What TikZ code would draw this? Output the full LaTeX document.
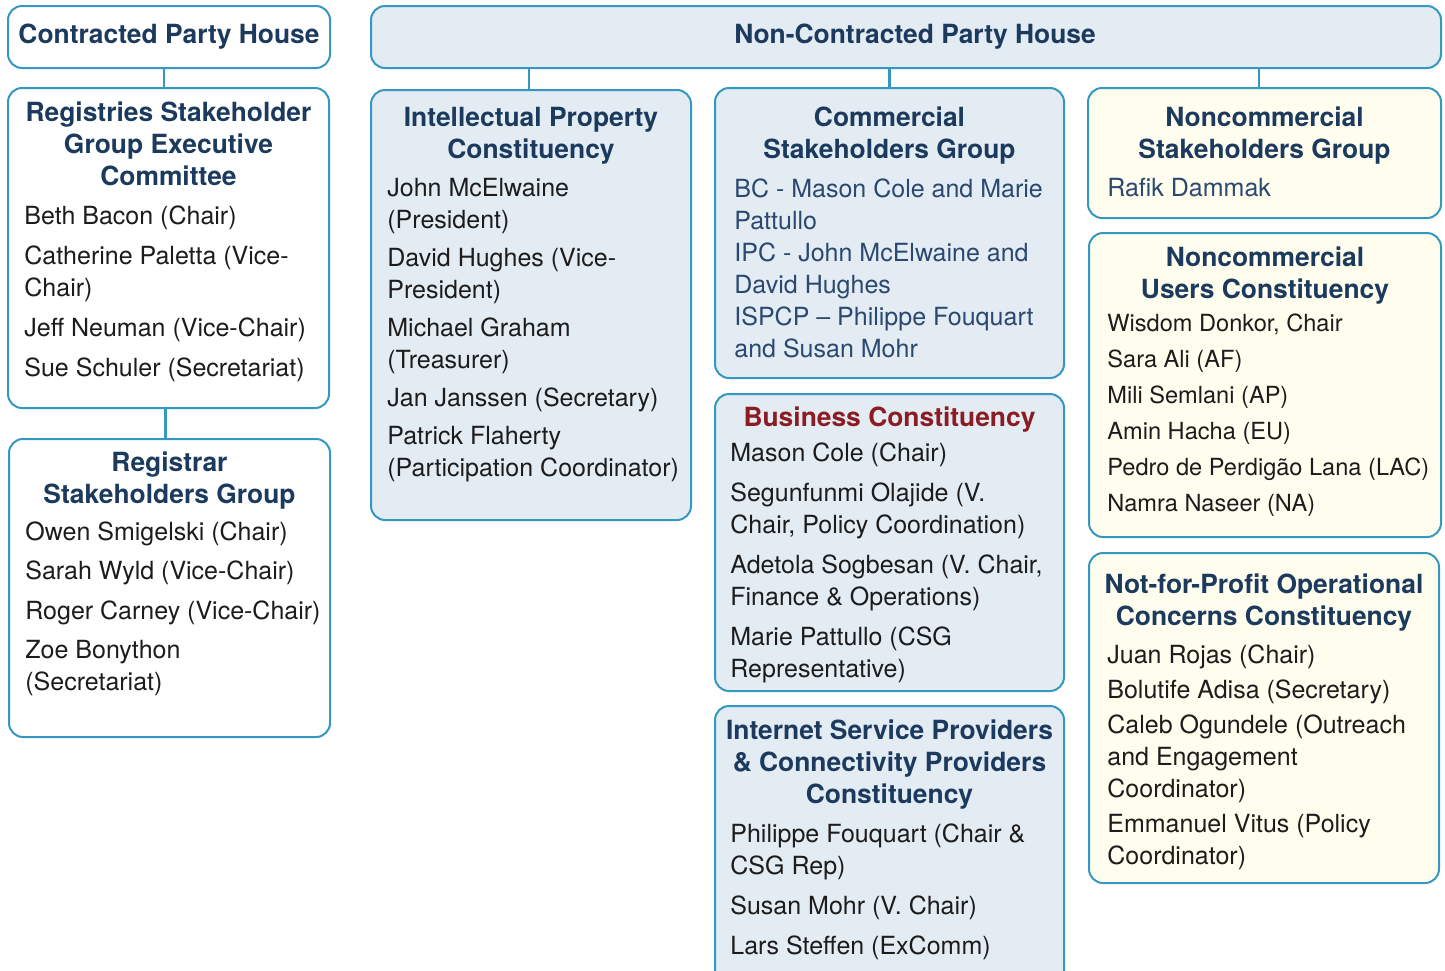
\documentclass[tikz,border=0pt]{standalone}
\usepackage{fontspec}
\setmainfont{TeX Gyre Heros}
\usetikzlibrary{fit}

\definecolor{edgeblue}{RGB}{52,152,192}
\definecolor{ncfill}{RGB}{227,235,243}
\definecolor{creamfill}{RGB}{254,253,238}
\definecolor{headnavy}{RGB}{27,58,94}
\definecolor{headred}{RGB}{140,28,36}
\definecolor{nametext}{RGB}{28,28,28}
\definecolor{listblue}{RGB}{42,72,112}

\tikzset{
  grpbox/.style={draw=edgeblue, line width=1pt, rounded corners=7pt, inner sep=0pt},
  cpbox/.style={grpbox, fill=white},
  ncbox/.style={grpbox, fill=ncfill},
  nccbox/.style={grpbox, fill=creamfill},
  grphead/.style={font=\fontsize{13.2pt}{16pt}\selectfont\bfseries, text=headnavy,
    align=center, inner sep=0pt, anchor=north},
  grplist/.style={font=\fontsize{12.5pt}{16pt}\selectfont, text=nametext,
    align=left, inner sep=0pt, anchor=north west},
  link/.style={draw=edgeblue, line width=1.4pt},
}

\begin{document}
\begin{tikzpicture}[x=0.5pt,y=-0.5pt]
  \clip (0,0) rectangle (1445,970);

  % Contracted Party House
  \node[cpbox, fit={(8,6) (330,68)}] (cph) {};
  \node[grphead, anchor=center] (cphh) at (cph.center) {Contracted Party House};

  \node[cpbox, fit={(8,88) (329,408)}] (rysg) {};
  \node[grphead] (rysgh) at ([shift={(0,14)}]rysg.north)
    {Registries Stakeholder\\Group Executive\\Committee};
  \node[grplist] (rysgl) at ([shift={(17,118)}]rysg.north west)
    {Beth Bacon (Chair)\\[4pt]
     Catherine Paletta (Vice-\\Chair)\\[4pt]
     Jeff Neuman (Vice-Chair)\\[4pt]
     Sue Schuler (Secretariat)};

  \node[cpbox, fit={(9,439) (330,737)}] (rrsg) {};
  \node[grphead] (rrsgh) at ([shift={(0,13)}]rrsg.north)
    {Registrar\\Stakeholders Group};
  \node[grplist] (rrsgl) at ([shift={(17,83)}]rrsg.north west)
    {Owen Smigelski (Chair)\\[3.8pt]
     Sarah Wyld (Vice-Chair)\\[3.8pt]
     Roger Carney (Vice-Chair)\\[3.8pt]
     Zoe Bonython\\(Secretariat)};

  % Non-Contracted Party House
  \node[ncbox, fit={(371,6) (1441,68)}] (ncph) {};
  \node[grphead, anchor=center] (ncphh) at ([xshift=4.5pt]ncph.center) {Non-Contracted Party House};

  \node[ncbox, fit={(371,90) (691,520)}] (ipc) {};
  \node[grphead] (ipch) at ([shift={(0,18)}]ipc.north)
    {Intellectual Property\\Constituency};
  \node[grplist] (ipcl) at ([shift={(17,89)}]ipc.north west)
    {John McElwaine\\(President)\\[3pt]
     David Hughes (Vice-\\President)\\[3pt]
     Michael Graham\\(Treasurer)\\[3pt]
     Jan Janssen (Secretary)\\[3pt]
     Patrick Flaherty\\(Participation Coordinator)};

  \node[ncbox, fit={(715,88) (1064,378)}] (csg) {};
  \node[grphead] (csgh) at ([shift={(0,19)}]csg.north)
    {Commercial\\Stakeholders Group};
  \node[grplist, text=listblue] (csgl) at ([shift={(20,91)}]csg.north west)
    {BC - Mason Cole and Marie\\Pattullo\\
     IPC - John McElwaine and\\David Hughes\\
     ISPCP -- Philippe Fouquart\\and Susan Mohr};

  \node[ncbox, fit={(715,394) (1064,691)}] (bc) {};
  \node[grphead, text=headred] (bch) at ([shift={(0,13)}]bc.north)
    {Business Constituency};
  \node[grplist] (bcl) at ([shift={(16,49)}]bc.north west)
    {Mason Cole (Chair)\\[4pt]
     Segunfunmi Olajide (V.\\Chair, Policy Coordination)\\[4pt]
     Adetola Sogbesan (V. Chair,\\Finance \& Operations)\\[4pt]
     Marie Pattullo (CSG\\Representative)};

  \node[ncbox, fit={(715,706) (1064,1010)}] (ispcp) {};
  \node[grphead] (ispcph) at ([shift={(0,14)}]ispcp.north)
    {Internet Service Providers\\\& Connectivity Providers\\Constituency};
  \node[grplist] (ispcpl) at ([shift={(16,118)}]ispcp.north west)
    {Philippe Fouquart (Chair \&\\CSG Rep)\\[4pt]
     Susan Mohr (V. Chair)\\[4pt]
     Lars Steffen (ExComm)};

  \node[nccbox, fit={(1088,88) (1441,218)}] (ncsg) {};
  \node[grphead] (ncsgh) at ([shift={(0,19)}]ncsg.north)
    {Noncommercial\\Stakeholders Group};
  \node[grplist, text=listblue] (ncsgl) at ([shift={(20,91)}]ncsg.north west)
    {Rafik Dammak};

  \node[nccbox, fit={(1089,233) (1441,537)}] (ncuc) {};
  \node[grphead] (ncuch) at ([shift={(0,14)}]ncuc.north)
    {Noncommercial\\Users Constituency};
  \node[grplist, font=\fontsize{11.8pt}{16pt}\selectfont] (ncucl) at ([shift={(19,81)}]ncuc.north west)
    {Wisdom Donkor, Chair\\[2pt]
     Sara Ali (AF)\\[2pt]
     Mili Semlani (AP)\\[2pt]
     Amin Hacha (EU)\\[2pt]
     Pedro de Perdigão Lana (LAC)\\[2pt]
     Namra Naseer (NA)};

  \node[nccbox, fit={(1089,553) (1439,883)}] (npoc) {};
  \node[grphead] (npoch) at ([shift={(0,21)}]npoc.north)
    {Not-for-Profit Operational\\Concerns Constituency};
  \node[grplist] (npocl) at ([shift={(19,92)}]npoc.north west)
    {Juan Rojas (Chair)\\[1.5pt]
     Bolutife Adisa (Secretary)\\[1.5pt]
     Caleb Ogundele (Outreach\\and Engagement\\Coordinator)\\[1.5pt]
     Emmanuel Vitus (Policy\\Coordinator)};

  % connectors
  \draw[link] ([xshift=-2.5pt]cph.south) -- ([xshift=-2.5pt]cph.south |- rysg.north);
  \draw[link] ([xshift=-1.5pt]rysg.south) -- ([xshift=-1.5pt]rysg.south |- rrsg.north);
  \draw[link] ([xshift=-1pt]ipc.north) -- ([xshift=-1pt]ipc.north |- ncph.south);
  \draw[link] (csg.north) -- (csg.north |- ncph.south);
  \draw[link] ([xshift=-2.75pt]ncsg.north) -- ([xshift=-2.75pt]ncsg.north |- ncph.south);
\end{tikzpicture}
\end{document}
